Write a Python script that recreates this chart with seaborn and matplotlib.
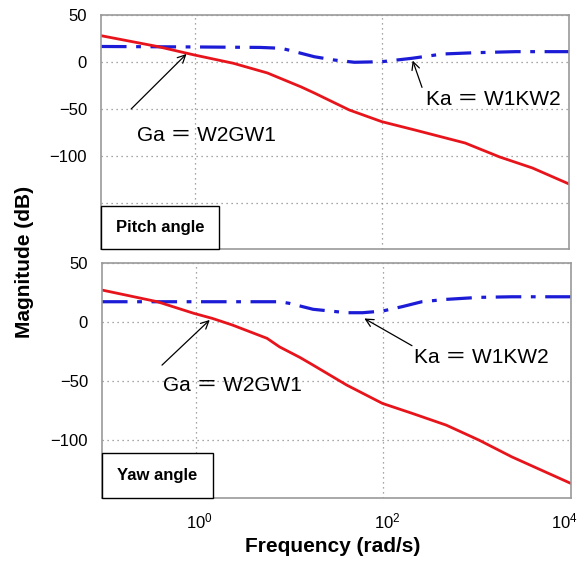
import numpy as np
import pandas as pd
import matplotlib
matplotlib.use("Agg")
import matplotlib.pyplot as plt
from matplotlib.patches import Rectangle
from matplotlib.transforms import ScaledTranslation
import seaborn as sns

# ---- data ----
pitch_ga_freq = [0.1, 0.4, 1.0, 2.6, 6.0, 13.8, 19, 45, 100, 224, 776, 1820, 4070, 10000]
pitch_ga_db = [28.0, 16.5, 7.4, -1.4, -11.7, -26.6, -33.0, -51.1, -63.5, -72.3, -86.2, -101.1, -112.8, -129.8]
pitch_ka_freq = [0.1, 1.0, 5.0, 8.4, 10, 19, 31, 51, 100, 209, 447, 1000, 2690, 10000]
pitch_ka_db = [16.5, 16.0, 15.5, 14.6, 12.8, 5.6, 2.1, -0.3, 0.3, 3.9, 8.5, 9.9, 11.0, 11.0]

yaw_ga_freq = [0.1, 0.39, 0.95, 1.5, 2.45, 5.75, 7.8, 12.9, 17.4, 40.7, 97.7, 204, 468, 1047, 2344, 10000]
yaw_ga_db = [27.1, 17.2, 7.4, 3.1, -2.5, -13.8, -21, -30, -36, -53.4, -68.9, -77.4, -87.3, -100, -114.2, -136.7]
yaw_ka_freq = [0.1, 1.0, 7.9, 10, 17.8, 40.7, 60, 97.7, 158, 257, 468, 1047, 2344, 10000]
yaw_ka_db = [17.2, 17.2, 17.2, 15.8, 10.8, 7.9, 7.9, 9.3, 13, 17.2, 19.2, 20.9, 21.4, 21.4]

y_ticks = [50, 0, -50, -100]
x_ticks = [1, 100, 10000]
panel_names = ["Pitch angle", "Yaw angle"]
ga_label = "Ga \uff1d W2GW1"
ka_label = "Ka \uff1d W1KW2"

sns.set_theme(style="white")
plt.rcParams['font.family'] = ['Liberation Sans', 'Noto Sans CJK SC', 'DejaVu Sans']
plt.rcParams['text.color'] = 'black'
plt.rcParams['axes.labelcolor'] = 'black'

W, H = 582, 563
fig = plt.figure(figsize=(W / 100, H / 100), dpi=100)

def ax_rect(x0, y0, x1, y1):
    return [x0 / W, 1 - y1 / H, (x1 - x0) / W, (y1 - y0) / H]

ax1 = fig.add_axes(ax_rect(101, 15, 569, 249))
ax2 = fig.add_axes(ax_rect(102, 263, 571, 498))

red = "#e8141b"
blue = "#1c1cd6"

def draw(ax, gf, gd, kf, kd):
    dg = pd.DataFrame({"freq": gf, "db": gd})
    dk = pd.DataFrame({"freq": kf, "db": kd})
    sns.lineplot(data=dk, x="freq", y="db", ax=ax, color=blue, lw=2.3,
                 linestyle=(0, (8, 3, 1.5, 3)))
    sns.lineplot(data=dg, x="freq", y="db", ax=ax, color=red, lw=2.0)
    ax.set_xscale("log")
    ax.set_xlim(0.1, 10000)
    ax.set_xlabel("")
    ax.set_ylabel("")
    ax.set_xticks(x_ticks)
    ax.set_yticks(y_ticks)
    ax.tick_params(axis="both", length=0, labelsize=12, colors="black", pad=10)
    ax.grid(True, which="major", color="#8a8a8a", linestyle=(0, (1, 3)), lw=0.9)
    ax.minorticks_off()
    for s in ax.spines.values():
        s.set_color("#9a9a9a")
        s.set_linewidth(1.2)

draw(ax1, pitch_ga_freq, pitch_ga_db, pitch_ka_freq, pitch_ka_db)
draw(ax2, yaw_ga_freq, yaw_ga_db, yaw_ka_freq, yaw_ka_db)

ax1.set_ylim(-199, 50)
ax1.set_yticks([-150], minor=True)
ax1.yaxis.grid(True, which="minor", color="#8a8a8a", linestyle=(0, (1, 3)), lw=0.9)
ax1.tick_params(axis="y", which="minor", length=0)
ax1.set_xticklabels([])
ax2.set_ylim(-149, 50)

# nudge x tick labels like the reference (last one kept inside the figure)
fig.canvas.draw()
xlabels = ax2.get_xticklabels()
shifts = [4, 4, -7]
for lab, dx in zip(xlabels, shifts):
    lab.set_transform(lab.get_transform() + ScaledTranslation(dx / 100, 0, fig.dpi_scale_trans))

arrow = dict(arrowstyle="->", color="black", lw=0.9, mutation_scale=14)

# top annotations
ax1.annotate("", xy=(0.86, 10.6), xytext=(0.2, -52.1), arrowprops=arrow)
ax1.text(0.244, -77.7, ga_label, fontsize=15, va="center", ha="left")
ax1.annotate("", xy=(209, 4.3), xytext=(275, -29.8), arrowprops=arrow)
ax1.text(295, -40.4, ka_label, fontsize=15, va="center", ha="left")

# bottom annotations
ax2.annotate("", xy=(1.48, 3.4), xytext=(0.415, -38.1), arrowprops=arrow)
ax2.text(0.446, -53.4, ga_label, fontsize=15, va="center", ha="left")
ax2.annotate("", xy=(59, 4.2), xytext=(214, -21.2), arrowprops=arrow)
ax2.text(214, -29.7, ka_label, fontsize=15, va="center", ha="left")

# panel name boxes
for ax, name, bw, bh in [(ax1, panel_names[0], 0.2516, 0.184), (ax2, panel_names[1], 0.237, 0.19)]:
    ax.add_patch(Rectangle((0, 0), bw, bh, transform=ax.transAxes, facecolor="white",
                           edgecolor="black", lw=1.0, zorder=5, clip_on=False))
    ax.text(bw / 2, bh / 2, name, transform=ax.transAxes, ha="center", va="center",
            fontsize=12, fontweight="bold", zorder=6)

fig.text(25 / W, 1 - 262 / H, "Magnitude (dB)", rotation=90, ha="center", va="center",
         fontsize=15, fontweight="bold")
fig.text(333 / W, 1 - 547 / H, "Frequency (rad/s)", ha="center", va="center",
         fontsize=15, fontweight="bold")

fig.savefig("out.png", dpi=100)
